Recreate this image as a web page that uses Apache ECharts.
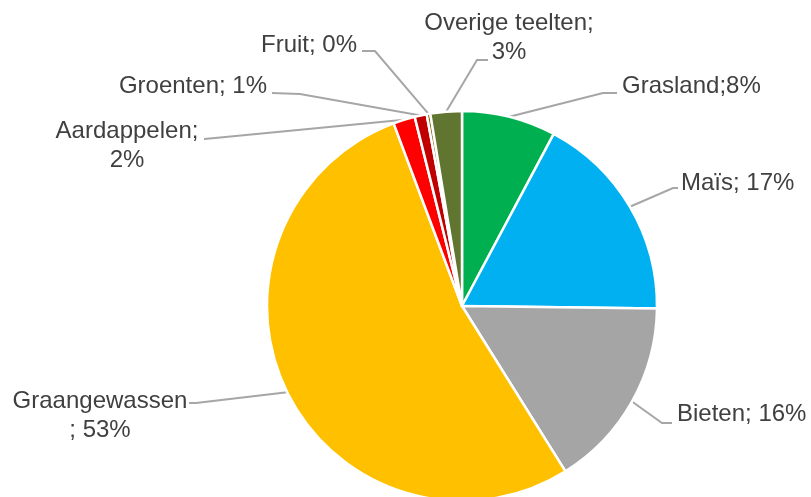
<!DOCTYPE html>
<html>
<head>
<meta charset="utf-8">
<script src="https://cdn.jsdelivr.net/npm/echarts@6/dist/echarts.min.js"></script>
<style>
  html, body { margin: 0; padding: 0; background: #ffffff; }
  #chart { width: 811px; height: 497px; }
</style>
</head>
<body>
<div id="chart"></div>
<script>
// Crop categories (clockwise from the top) and their share of the area, in percent
const categories = ['Grasland', 'Maïs', 'Bieten', 'Graangewassen', 'Aardappelen', 'Groenten', 'Fruit', 'Overige teelten'];
const shares = [7.8, 17.4, 15.9, 53.2, 1.8, 1.0, 0.3, 2.6];
// Separator between name and percentage in each label
const separators = [';', '; ', '; ', '\n; ', ';\n', '; ', '; ', ';\n'];
const colors = ['#00b050', '#00b0f0', '#a5a5a5', '#ffc000', '#ff0000', '#c00000', '#7f6000', '#5f7530'];

// Label placement: text anchor, alignment and the two bend points of each leader line
const labelPlacement = [
  { x: 622, y: 86,  align: 'left',   line: [[603, 93], [617, 93]] },
  { x: 681, y: 183, align: 'left',   line: [[673, 188], [678, 188]] },
  { x: 677, y: 414, align: 'left',   line: [[662, 423], [672, 423]] },
  { x: 100, y: 416, align: 'center', line: [[196, 403], [189, 403]] },
  { x: 127, y: 146, align: 'center', line: [[215, 138], [204, 139]] },
  { x: 267, y: 86,  align: 'right',  line: [[300, 94], [272, 93]] },
  { x: 357, y: 45,  align: 'right',  line: [[375, 51], [362, 51]] },
  { x: 509, y: 38,  align: 'center', line: [[477, 60], [488, 60]] }
];

const chart = echarts.init(document.getElementById('chart'), null, { renderer: 'canvas' });

chart.setOption({
  backgroundColor: '#ffffff',
  animation: false,
  series: [{
    type: 'pie',
    center: [462, 306],
    radius: 195,
    startAngle: 90,
    clockwise: true,
    avoidLabelOverlap: false,
    itemStyle: { borderColor: '#ffffff', borderWidth: 2.5 },
    label: {
      show: true,
      position: 'outside',
      color: '#404040',
      fontFamily: 'Liberation Sans, Arial, sans-serif',
      fontSize: 24,
      lineHeight: 29,
      formatter: function (p) {
        return p.name + separators[p.dataIndex] + Math.round(p.value) + '%';
      }
    },
    labelLine: {
      show: true,
      length: 10,
      length2: 10,
      lineStyle: { color: '#a6a6a6', width: 2 }
    },
    labelLayout: function (params) {
      const pl = labelPlacement[params.dataIndex];
      const start = params.labelLinePoints ? params.labelLinePoints[0] : pl.line[0];
      return {
        x: pl.x,
        y: pl.y,
        align: pl.align,
        verticalAlign: 'middle',
        labelLinePoints: [start, pl.line[0], pl.line[1]]
      };
    },
    data: categories.map(function (name, i) {
      return { name: name, value: shares[i], itemStyle: { color: colors[i] } };
    })
  }]
});
</script>
</body>
</html>
